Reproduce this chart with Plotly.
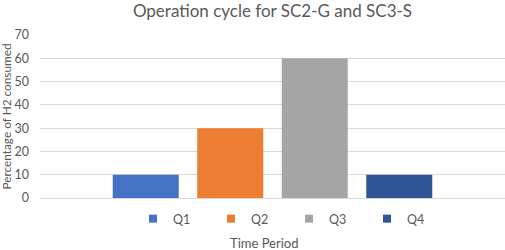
import plotly.graph_objects as go

categories = [""]
series_names = ["Q1", "Q2", "Q3", "Q4"]
series_values = [[10], [30], [60], [10]]
colors = ["#4472C4", "#ED7D31", "#A5A5A5", "#2F5597"]
y_ticks = [0, 10, 20, 30, 40, 50, 60, 70]

fig = go.Figure()
for name, vals, c in zip(series_names, series_values, colors):
    fig.add_trace(go.Bar(x=categories, y=vals, name=name, marker_color=c,
                         marker_line_width=0, showlegend=False, legendgroup=name))
# legend entries with small square symbols (Excel style)
for name, c in zip(series_names, colors):
    fig.add_trace(go.Scatter(x=[None], y=[None], mode="markers", name=name,
                             legendgroup=name,
                             marker=dict(symbol="square", size=8, color=c)))

font = "Lato, Carlito, Open Sans, sans-serif"
fig.update_layout(
    width=505, height=250,
    margin=dict(l=40, r=0, t=35, b=52),
    paper_bgcolor="white", plot_bgcolor="white",
    font=dict(family=font, color="#595959", size=12),
    title=dict(text="Operation cycle for SC2-G and SC3-S", x=0.5, xanchor="center",
               xref="paper", y=0.955, yref="container", yanchor="middle",
               font=dict(size=17, color="#595959")),
    barmode="group", bargap=0.273, bargroupgap=0.219,
    showlegend=True,
    legend=dict(orientation="h", x=0.2, xanchor="left", y=-0.129, yanchor="middle",
                font=dict(size=12.5, color="#595959"), entrywidth=33,
                itemwidth=30, bgcolor="rgba(0,0,0,0)"),
    xaxis=dict(showticklabels=False, showgrid=False, zeroline=False, showline=False,
               automargin=False),
    yaxis=dict(range=[0, 70], tickvals=y_ticks, showgrid=True, gridcolor="#D9D9D9",
               gridwidth=1, zeroline=True, zerolinecolor="#D9D9D9", zerolinewidth=1,
               showline=False, ticklabelstandoff=10, automargin=False,
               tickfont=dict(size=12.5)),
    annotations=[
        dict(text="Percentage of H2 consumed", xref="paper", yref="paper",
             x=-0.073, y=0.5, xanchor="center", yanchor="middle", textangle=-90,
             showarrow=False, font=dict(size=11.8, color="#595959")),
        dict(text="Time Period", xref="paper", yref="paper",
             x=0.482, y=-0.276, xanchor="center", yanchor="middle",
             showarrow=False, font=dict(size=13, color="#595959")),
    ],
)
fig.write_html("out.html", config={"displayModeBar": False},
               post_script="document.body.style.margin='0';")
